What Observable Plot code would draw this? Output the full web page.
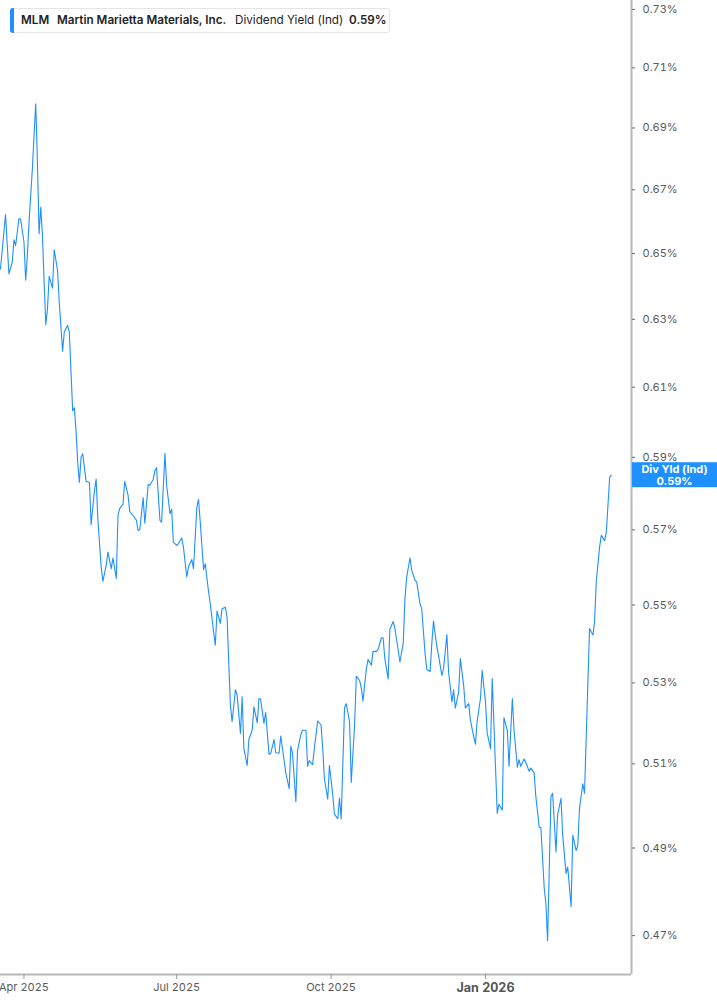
<!DOCTYPE html>
<html><head><meta charset="utf-8">
<script src="https://cdn.jsdelivr.net/npm/d3@7"></script>
<script src="https://cdn.jsdelivr.net/npm/@observablehq/plot@0.6"></script>
<style>
body{margin:0;background:#fff;font-family:Inter,"Noto Sans",sans-serif;}
#wrap{position:relative;width:717px;height:1005px;overflow:hidden;}
#legend{position:absolute;left:10px;top:8px;width:380px;height:25px;border:1px solid #e4e4e4;border-radius:3px;background:#fff;box-sizing:border-box;font-size:11.7px;color:#222;}
#legend .bar{position:absolute;left:-1px;top:-1px;bottom:-1px;width:4px;background:#1e90ff;border-radius:3px 0 0 3px;}
#legend span{position:absolute;top:0;line-height:23px;white-space:nowrap;}
#legend .b{font-weight:600;}
</style>
</head><body>
<div id="wrap">
<div id="legend"><div class="bar"></div>
<span class="b" style="left:10px">MLM</span>
<span class="b" style="left:46px">Martin Marietta Materials, Inc.</span>
<span style="left:224px">Dividend Yield (Ind)</span>
<span class="b" style="left:338px">0.59%</span>
</div>
</div>
<script>
const dates = ["2025-03-18","2025-03-21","2025-03-23","2025-03-25","2025-03-26","2025-03-27","2025-03-29","2025-03-30",
"2025-04-01","2025-04-02","2025-04-03","2025-04-04","2025-04-06","2025-04-07","2025-04-08","2025-04-09","2025-04-10","2025-04-11","2025-04-12","2025-04-13","2025-04-14","2025-04-15","2025-04-16","2025-04-18","2025-04-19","2025-04-21","2025-04-22","2025-04-24","2025-04-25","2025-04-27","2025-04-28","2025-04-30",
"2025-05-01","2025-05-02","2025-05-03","2025-05-04","2025-05-05","2025-05-06","2025-05-08","2025-05-10","2025-05-11","2025-05-13","2025-05-14","2025-05-15","2025-05-17","2025-05-18","2025-05-20","2025-05-21","2025-05-23","2025-05-24","2025-05-26","2025-05-27","2025-05-28","2025-05-30","2025-05-31",
"2025-06-02","2025-06-03","2025-06-05","2025-06-07","2025-06-08","2025-06-09","2025-06-11","2025-06-12","2025-06-14","2025-06-15","2025-06-17","2025-06-18","2025-06-19","2025-06-21","2025-06-22","2025-06-24","2025-06-25","2025-06-27","2025-06-28","2025-06-29",
"2025-07-01","2025-07-02","2025-07-04","2025-07-05","2025-07-07","2025-07-08","2025-07-10","2025-07-11","2025-07-13","2025-07-14","2025-07-15","2025-07-17","2025-07-18","2025-07-20","2025-07-21","2025-07-23","2025-07-24","2025-07-25","2025-07-27","2025-07-28","2025-07-30","2025-07-31",
"2025-08-01","2025-08-02","2025-08-03","2025-08-05","2025-08-06","2025-08-08","2025-08-09","2025-08-10","2025-08-12","2025-08-13","2025-08-15","2025-08-16","2025-08-18","2025-08-19","2025-08-20","2025-08-22","2025-08-23","2025-08-25","2025-08-26","2025-08-28","2025-08-29","2025-08-31",
"2025-09-01","2025-09-03","2025-09-04","2025-09-06","2025-09-07","2025-09-08","2025-09-10","2025-09-11","2025-09-13","2025-09-14","2025-09-16","2025-09-17","2025-09-18","2025-09-20","2025-09-21","2025-09-23","2025-09-25","2025-09-26","2025-09-27","2025-09-29","2025-09-30",
"2025-10-02","2025-10-03","2025-10-05","2025-10-06","2025-10-07","2025-10-09","2025-10-10","2025-10-12","2025-10-13","2025-10-15","2025-10-16","2025-10-18","2025-10-19","2025-10-20","2025-10-22","2025-10-23","2025-10-25","2025-10-26","2025-10-28","2025-10-29","2025-10-31",
"2025-11-01","2025-11-02","2025-11-04","2025-11-05","2025-11-07","2025-11-08","2025-11-10","2025-11-11","2025-11-13","2025-11-14","2025-11-15","2025-11-17","2025-11-18","2025-11-20","2025-11-21","2025-11-23","2025-11-24","2025-11-26","2025-11-27","2025-11-29","2025-11-30",
"2025-12-01","2025-12-03","2025-12-04","2025-12-06","2025-12-07","2025-12-09","2025-12-10","2025-12-12","2025-12-13","2025-12-14","2025-12-16","2025-12-17","2025-12-19","2025-12-20","2025-12-22","2025-12-23","2025-12-25","2025-12-26","2025-12-27","2025-12-29","2025-12-30",
"2026-01-01","2026-01-02","2026-01-04","2026-01-05","2026-01-08","2026-01-09","2026-01-11","2026-01-12","2026-01-14","2026-01-15","2026-01-17","2026-01-18","2026-01-20","2026-01-21","2026-01-22","2026-01-24","2026-01-25","2026-01-27","2026-01-28","2026-01-30","2026-01-31",
"2026-02-02","2026-02-03","2026-02-05","2026-02-06","2026-02-07","2026-02-09","2026-02-10","2026-02-12","2026-02-13","2026-02-15","2026-02-16","2026-02-18","2026-02-19","2026-02-21","2026-02-22","2026-02-24","2026-02-25","2026-02-26","2026-02-28",
"2026-03-01","2026-03-04","2026-03-06","2026-03-07","2026-03-08","2026-03-10","2026-03-11","2026-03-13","2026-03-14","2026-03-16","2026-03-17"];

const values = [0.6453,0.6622,0.6438,0.6473,0.6543,0.6525,0.6609,0.6607,
0.6535,0.6418,0.6494,0.6598,0.6768,0.6875,0.6980,0.6789,0.6562,0.6645,0.6556,0.6413,0.6284,0.6332,0.6430,0.6394,0.6512,0.6448,0.6352,0.6205,0.6262,0.6282,0.6262,0.6032,
0.6041,0.5976,0.5886,0.5830,0.5900,0.5910,0.5833,0.5830,0.5714,0.5808,0.5839,0.5730,0.5600,0.5562,0.5605,0.5640,0.5596,0.5624,0.5570,0.5739,0.5758,0.5770,0.5833,
0.5795,0.5750,0.5739,0.5726,0.5698,0.5700,0.5788,0.5718,0.5824,0.5822,0.5838,0.5863,0.5871,0.5726,0.5721,0.5911,0.5822,0.5744,0.5756,0.5667,
0.5658,0.5663,0.5678,0.5654,0.5574,0.5600,0.5620,0.5596,0.5762,0.5783,0.5723,0.5593,0.5609,0.5534,0.5503,0.5430,0.5396,0.5484,0.5452,0.5490,0.5494,0.5468,
0.5353,0.5244,0.5203,0.5283,0.5269,0.5174,0.5265,0.5138,0.5096,0.5160,0.5182,0.5240,0.5200,0.5261,0.5259,0.5199,0.5226,0.5123,0.5125,0.5159,0.5127,0.5126,
0.5168,0.5108,0.5078,0.5040,0.5143,0.5126,0.5009,0.5133,0.5172,0.5182,0.5182,0.5094,0.5108,0.5098,0.5137,0.5205,0.5195,0.5138,0.5064,0.5015,0.5096,
0.5025,0.4979,0.4969,0.5018,0.4968,0.5238,0.5248,0.5203,0.5055,0.5195,0.5317,0.5306,0.5287,0.5254,0.5336,0.5359,0.5345,0.5380,0.5380,0.5385,0.5415,
0.5415,0.5362,0.5310,0.5437,0.5457,0.5439,0.5383,0.5353,0.5402,0.5516,0.5572,0.5625,0.5592,0.5565,0.5561,0.5503,0.5490,0.5375,0.5334,0.5329,0.5400,
0.5458,0.5392,0.5370,0.5319,0.5336,0.5423,0.5327,0.5252,0.5283,0.5237,0.5277,0.5362,0.5293,0.5237,0.5248,0.5207,0.5166,0.5148,0.5203,0.5261,0.5332,
0.5253,0.5175,0.5137,0.5311,0.4981,0.5003,0.4989,0.5213,0.5182,0.5094,0.5261,0.5182,0.5092,0.5110,0.5094,0.5112,0.5104,0.5082,0.5090,0.5078,0.5021,
0.4949,0.4948,0.4807,0.4773,0.4689,0.5021,0.5029,0.4891,0.4979,0.5017,0.4930,0.4841,0.4856,0.4765,0.4930,0.4894,0.4906,0.4993,0.5052,
0.5029,0.5439,0.5422,0.5456,0.5561,0.5654,0.5685,0.5671,0.5694,0.5845,0.5850];

const yTicks = [0.47,0.49,0.51,0.53,0.55,0.57,0.59,0.61,0.63,0.65,0.67,0.69,0.71,0.73];
const xTickDates = ["2025-04-01","2025-07-01","2025-10-01"];
const xTickLabels = ["Apr 2025","Jul 2025","Oct 2025"];
const xYearDates = ["2026-01-01"];
const xYearLabels = ["Jan 2026"];
const xDomain = ["2025-03-18","2026-03-29"];
const yDomain = [0.4614,0.7331];
const badgeTitle = "Div Yld (Ind)";
const badgeValue = "0.59%";

const data = dates.map((d,i)=>({date:new Date(d), value:values[i]}));
const labelMap = new Map();
xTickDates.forEach((d,i)=>labelMap.set(+new Date(d), xTickLabels[i]));
xYearDates.forEach((d,i)=>labelMap.set(+new Date(d), xYearLabels[i]));
const x0 = new Date(xDomain[0]), x1 = new Date(xDomain[1]);
const blue = "#1e90ff";

const chart = Plot.plot({
  width:717, height:1005,
  marginLeft:0, marginRight:86, marginTop:0, marginBottom:31,
  style:{fontFamily:"Inter, 'Noto Sans', sans-serif", fontSize:"11px", color:"#5a5a5a", background:"transparent", overflow:"visible"},
  x:{type:"utc", domain:[x0,x1]},
  y:{type:"log", domain:yDomain},
  marks:[
    Plot.ruleY([yDomain[0]], {stroke:"#b8b8b8", strokeWidth:2}),
    Plot.ruleX([x1], {stroke:"#b8b8b8", strokeWidth:2}),
    Plot.axisX(xTickDates.map(d=>new Date(d)), {tickSize:5, tickPadding:4, stroke:"#999", fill:"#5a5a5a", fontSize:11, tickFormat:d=>labelMap.get(+d), label:null}),
    Plot.axisX(xYearDates.map(d=>new Date(d)), {tickSize:5, tickPadding:4, stroke:"#999", fill:"#555", fontSize:12.5, fontWeight:"bold", tickFormat:d=>labelMap.get(+d), label:null}),
    Plot.axisY(yTicks, {anchor:"right", tickSize:3, tickPadding:8, stroke:"#666", fill:"#5a5a5a", fontSize:11, tickFormat:d=>d.toFixed(2)+"%", label:null}),
    Plot.lineY(data, {x:"date", y:"value", stroke:blue, strokeWidth:1.1})
  ]
});

document.getElementById("wrap").insertBefore(chart, document.getElementById("legend"));
chart.style.position = "absolute"; chart.style.left = "0"; chart.style.top = "0";

const ys = chart.scale("y"), xs = chart.scale("x");
const yEnd = ys.apply(values[values.length-1]);
const xRight = xs.apply(x1) + 1;
const g = d3.select(chart).append("g");
g.append("rect").attr("x", xRight).attr("y", yEnd-12.5).attr("width", 717-xRight).attr("height", 25).attr("fill", blue);
const cx = xRight + (717-xRight)/2;
g.append("text").attr("x", cx).attr("y", yEnd-5.5).attr("dy","0.35em").attr("text-anchor","middle")
  .attr("fill","#fff").attr("font-weight","bold").attr("font-size",11).attr("font-family","Inter, sans-serif").text(badgeTitle);
g.append("text").attr("x", cx).attr("y", yEnd+6.5).attr("dy","0.35em").attr("text-anchor","middle")
  .attr("fill","#fff").attr("font-weight","bold").attr("font-size",11).attr("font-family","Inter, sans-serif").text(badgeValue);
</script>
</body></html>
